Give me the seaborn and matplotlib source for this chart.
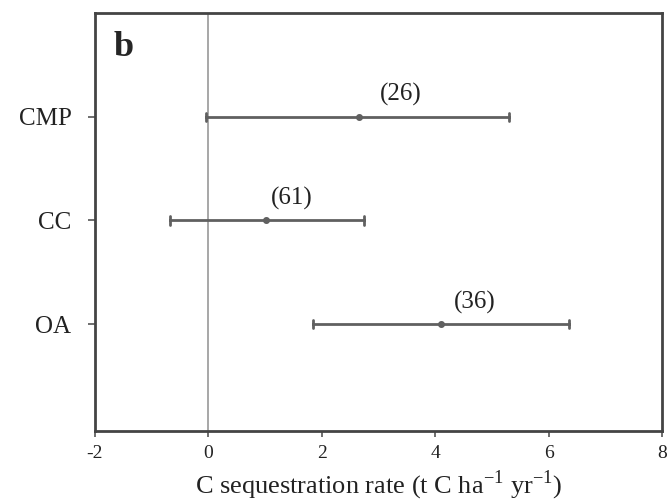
import pandas as pd
import matplotlib.pyplot as plt
import seaborn as sns
import numpy as np

# practices and their C sequestration rate (t C ha-1 yr-1): lower CI, mean, upper CI
practices = ['CMP', 'CC', 'OA']
rate_mean = [2.65, 1.02, 4.10]
rate_low = [-0.05, -0.68, 1.85]
rate_high = [5.30, 2.75, 6.35]
n_studies = ['(26)', '(61)', '(36)']

# long table: median of (low, mean, high) is the mean, pi 100 gives the low-high range
rows = []
for p, lo, m, hi in zip(practices, rate_low, rate_mean, rate_high):
    for v in (lo, m, hi):
        rows.append({'practice': p, 'rate': v})
df = pd.DataFrame(rows)

sns.set_style('ticks')
plt.rcParams['font.family'] = ['Liberation Serif', 'DejaVu Serif']

fig = plt.figure(figsize=(6.69, 5.01), dpi=100)
ax = fig.add_axes([0.142, 0.140, 0.848, 0.834])

ax.axvline(0, color='#a0a0a0', lw=1.3, zorder=0)
sns.pointplot(data=df, x='rate', y='practice', order=practices, estimator='median',
              errorbar=('pi', 100), linestyle='none', color='#606060', err_kws={'linewidth': 2.0},
              capsize=0.08, markers='o', markersize=3, ax=ax)
for coll in ax.collections:
    coll.set_facecolor('black')
    coll.set_edgecolor('black')

# label offsets (data units) from the mean point
label_dx = [0.74, 0.45, 0.6]
for i, (m, lab) in enumerate(zip(rate_mean, n_studies)):
    ax.text(m + label_dx[i], i - 0.21, lab, ha='center', va='center', fontsize=18, color='#222222')

ax.text(-1.5, -0.67, 'b', fontsize=26, fontweight='bold', ha='center', va='center')

ax.set_xlim(-2, 8)
ax.set_ylim(3.03, -1)
ax.set_xticks([-2, 0, 2, 4, 6, 8])
ax.set_xticklabels(['-2', '0', '2', '4', '6', '8'], fontsize=14)
ax.tick_params(axis='y', labelsize=18, length=5, color='#555555', width=1.2, pad=12,
               labelcolor='#222222')
ax.tick_params(axis='x', length=4, color='#555555', width=1.2, pad=6, labelcolor='#222222')
ax.set_ylabel('')
ax.set_xlabel('C sequestration rate (t C ha$^{\\mathregular{-1}}$ yr$^{\\mathregular{-1}}$)', fontsize=19,
              labelpad=5, color='#222222')
for s in ax.spines.values():
    s.set_color('#444444')
    s.set_linewidth(2.0)

plt.savefig('out.png', dpi=100)
plt.close()
